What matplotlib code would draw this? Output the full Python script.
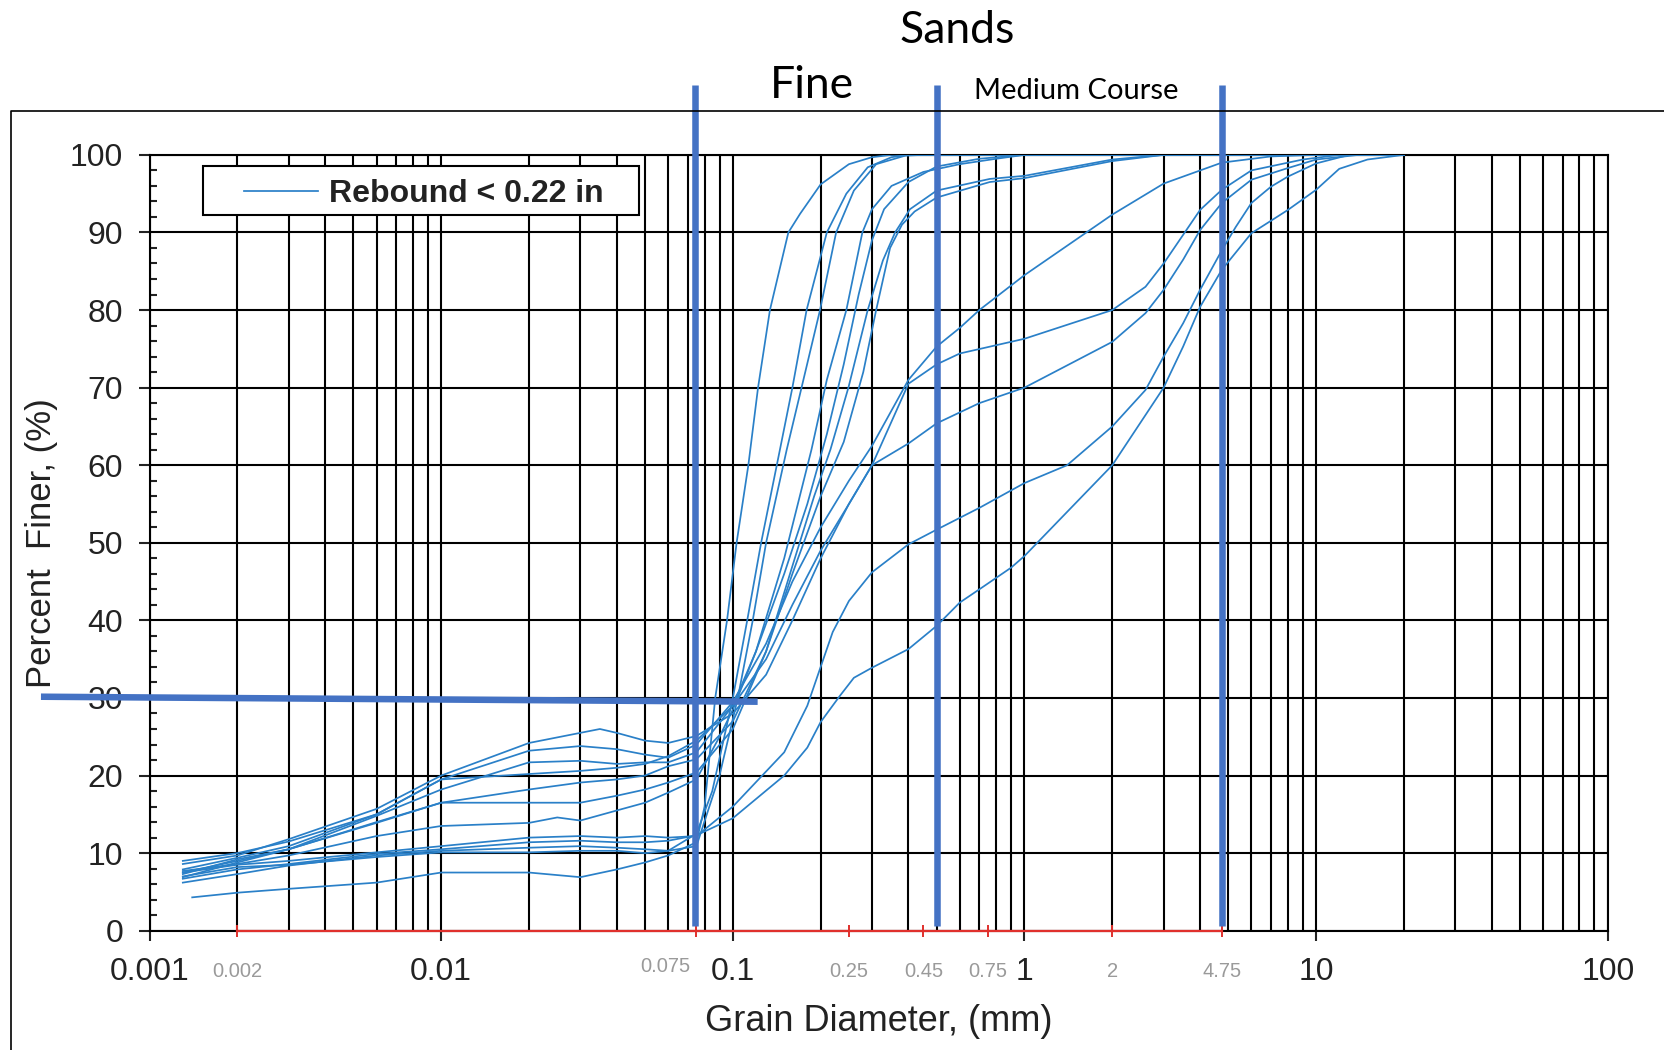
import numpy as np
import matplotlib
matplotlib.use("Agg")
import matplotlib.pyplot as plt
from matplotlib.ticker import LogLocator, FixedLocator, FixedFormatter, NullFormatter
from matplotlib.lines import Line2D
from matplotlib.patches import Rectangle

plt.rcParams['font.family'] = ['Liberation Sans', 'DejaVu Sans']

# grain size curves (diameter in mm, percent finer)
c1_d = [0.0014, 0.002, 0.003, 0.006, 0.01, 0.02, 0.03, 0.04, 0.05, 0.06, 0.075, 0.08, 0.087, 0.0955, 0.103, 0.113, 0.122, 0.134, 0.155, 0.17, 0.2, 0.25, 0.3, 0.35, 20]
c1_p = [4.3, 4.9, 5.4, 6.2, 7.5, 7.5, 6.9, 7.9, 8.8, 9.7, 11.4, 16, 30, 40, 50, 60, 70, 80, 90, 92.4, 96.2, 98.8, 99.7, 100, 100]

c2_d = [0.0013, 0.002, 0.003, 0.006, 0.01, 0.02, 0.03, 0.04, 0.05, 0.06, 0.075, 0.085, 0.1, 0.112, 0.125, 0.145, 0.16, 0.179, 0.21, 0.245, 0.29, 0.35, 0.4, 20]
c2_p = [7.0, 8.2, 8.5, 9.5, 10.1, 10.1, 10.3, 10.3, 10.0, 10.3, 12.5, 18, 30, 40, 50, 62, 70, 80, 90, 95, 98.4, 99.7, 100, 100]

c3_d = [0.0013, 0.002, 0.003, 0.006, 0.01, 0.02, 0.03, 0.04, 0.05, 0.06, 0.075, 0.09, 0.104, 0.117, 0.13, 0.153, 0.172, 0.199, 0.226, 0.26, 0.31, 0.39, 0.45, 20]
c3_p = [6.2, 7.3, 8.4, 9.7, 10.3, 10.7, 10.9, 10.7, 10.5, 10.3, 10.9, 20, 30, 40, 50, 62, 70, 80, 90, 95.4, 98.8, 99.9, 100, 100]

c4_d = [0.0013, 0.002, 0.003, 0.006, 0.01, 0.02, 0.025, 0.03, 0.04, 0.05, 0.06, 0.075, 0.09, 0.1, 0.12, 0.15, 0.186, 0.21, 0.245, 0.278, 0.3, 0.35, 0.45, 0.6, 0.8, 1.0, 20]
c4_p = [7.7, 8.6, 9.7, 12.2, 13.5, 13.9, 14.6, 14.2, 15.5, 16.5, 17.8, 19.5, 25, 28.5, 36, 48, 62, 71, 80, 90, 93, 96, 97.8, 98.8, 99.5, 100, 100]

c5_d = [0.0013, 0.002, 0.003, 0.006, 0.01, 0.02, 0.03, 0.04, 0.05, 0.06, 0.075, 0.1, 0.13, 0.16, 0.19, 0.216, 0.249, 0.29, 0.327, 0.36, 0.405, 0.5, 0.76, 1.0, 2.0, 3.0, 20]
c5_p = [7.5, 9.0, 10.5, 14, 16.5, 16.5, 16.5, 17.4, 18.2, 19.1, 20.4, 26, 36, 47, 56, 62, 70, 80, 86.4, 90, 93, 95.4, 96.9, 97.3, 99.4, 100, 100]

c6_d = [0.0013, 0.002, 0.003, 0.006, 0.01, 0.02, 0.03, 0.04, 0.05, 0.06, 0.075, 0.1, 0.13, 0.16, 0.2, 0.24, 0.28, 0.31, 0.346, 0.38, 0.42, 0.5, 0.76, 1.0, 2.0, 3.0, 20]
c6_p = [6.9, 8.8, 10.5, 13.9, 16.5, 18.2, 19.1, 19.5, 20, 21.2, 22.1, 27, 36, 46, 56, 63, 72, 80, 88, 91, 92.7, 94.5, 96.5, 97, 99.2, 100, 100]

c7_d = [0.0013, 0.002, 0.003, 0.006, 0.01, 0.02, 0.03, 0.04, 0.05, 0.06, 0.075, 0.1, 0.12, 0.15, 0.18, 0.21, 0.24, 0.27, 0.3, 0.33, 0.4, 0.5, 0.7, 1.0, 20]
c7_p = [7.3, 9.2, 10.5, 14.8, 18.2, 21.7, 21.9, 21.5, 21.7, 21.7, 23, 29, 36, 46, 55, 64, 73, 82, 89, 93, 96.5, 98.5, 99.5, 100, 100]

c8_d = [0.0013, 0.002, 0.003, 0.006, 0.01, 0.02, 0.03, 0.04, 0.05, 0.06, 0.075, 0.1, 0.13, 0.16, 0.2, 0.25, 0.3, 0.4, 0.5, 0.6, 0.7, 1.0, 2.0, 3.0, 4.75, 7.0, 10, 20]
c8_p = [7.9, 9.4, 10.9, 15, 19.5, 23.2, 23.8, 23.4, 22.7, 22.3, 24, 29.5, 37, 45, 52, 58, 62.5, 71, 75.3, 77.7, 80, 84.5, 92.3, 96.3, 99, 99.8, 100, 100]

c9_d = [0.0013, 0.002, 0.003, 0.006, 0.01, 0.02, 0.03, 0.04, 0.05, 0.06, 0.075, 0.1, 0.13, 0.16, 0.2, 0.25, 0.3, 0.4, 0.5, 0.6, 1.0, 2.0, 2.6, 3.0, 4.0, 4.75, 6.0, 9.0, 12, 20]
c9_p = [9.0, 10, 11.5, 15, 19.5, 20.2, 20.6, 21.0, 21.5, 22.5, 24.5, 29, 35, 42, 49, 55, 60, 70.5, 73, 74.4, 76.3, 80, 83, 86, 92.9, 95.5, 98, 99.4, 100, 100]

c10_d = [0.0013, 0.002, 0.003, 0.006, 0.01, 0.02, 0.035, 0.04, 0.05, 0.06, 0.075, 0.1, 0.13, 0.16, 0.2, 0.25, 0.3, 0.4, 0.5, 0.7, 1.0, 2.0, 2.6, 3.0, 3.5, 4.0, 4.75, 6.0, 8.0, 10, 14, 20]
c10_p = [8.6, 9.7, 11.8, 15.7, 20, 24.2, 26, 25.5, 24.5, 24.2, 25.1, 28, 33, 40, 48, 55, 60, 62.8, 65.4, 68, 70, 75.9, 79.6, 82.6, 86.5, 90.3, 93.8, 96.8, 98.3, 99.4, 100, 100]

c11_d = [0.0013, 0.002, 0.003, 0.006, 0.01, 0.02, 0.03, 0.04, 0.05, 0.06, 0.075, 0.1, 0.15, 0.18, 0.2, 0.22, 0.25, 0.3, 0.4, 0.5, 0.7, 1.0, 1.4, 2.0, 2.6, 3.0, 3.5, 4.0, 4.75, 5.3, 6.0, 7.0, 8.0, 10, 13, 20]
c11_p = [7.5, 8.5, 9.0, 10.1, 10.9, 12.0, 12.2, 12.0, 12.2, 12.0, 12.2, 16, 23, 29, 34, 38.5, 42.5, 46.2, 49.8, 51.7, 54.5, 57.7, 60, 65, 69.7, 74, 78.3, 82.6, 87.7, 90.7, 93.8, 95.9, 97.2, 98.9, 100, 100]

c12_d = [0.0013, 0.002, 0.003, 0.006, 0.01, 0.02, 0.03, 0.04, 0.05, 0.06, 0.075, 0.1, 0.15, 0.18, 0.2, 0.232, 0.26, 0.3, 0.4, 0.5, 0.6, 0.7, 0.9, 1.0, 2.0, 3.0, 3.5, 4.0, 4.75, 6.0, 8.0, 10, 12, 15, 20]
c12_p = [6.7, 7.9, 8.6, 9.9, 10.5, 11.4, 11.6, 11.4, 11.4, 11.6, 12.3, 14.5, 20, 23.6, 26.9, 30.2, 32.6, 33.9, 36.3, 39.3, 42.3, 44, 46.8, 48.3, 60, 70, 75.3, 80.4, 85.2, 89.9, 92.9, 95.5, 98.2, 99.4, 100]

curves = [(c1_d, c1_p), (c2_d, c2_p), (c3_d, c3_p), (c4_d, c4_p), (c5_d, c5_p), (c6_d, c6_p),
          (c7_d, c7_p), (c8_d, c8_p), (c9_d, c9_p), (c10_d, c10_p), (c11_d, c11_p), (c12_d, c12_p)]

major_x = [0.001, 0.01, 0.1, 1, 10, 100]
major_x_labels = ['0.001', '0.01', '0.1', '1', '10', '100']
sieve_x = [0.002, 0.075, 0.25, 0.45, 0.75, 2, 4.75]
sieve_labels = ['0.002', '0.075', '0.25', '0.45', '0.75', '2', '4.75']
boundaries = [0.074, 0.5, 4.75]
legend_label = 'Rebound < 0.22 in'

curve_color = '#2a80c8'
mark_blue = '#4472c4'

fig = plt.figure(figsize=(16.64, 10.5), dpi=100)
ax = fig.add_axes([0.0899, 0.1136, 0.8763, 0.7389])

for d, p in curves:
    ax.plot(d, p, color=curve_color, lw=1.25, zorder=3)

ax.set_xscale('log')
ax.set_xlim(0.001, 100)
ax.set_ylim(0, 100)

ax.xaxis.set_major_locator(FixedLocator(major_x))
ax.xaxis.set_major_formatter(FixedFormatter(major_x_labels))
ax.xaxis.set_minor_locator(LogLocator(base=10, subs=np.arange(2, 10), numticks=20))
ax.xaxis.set_minor_formatter(NullFormatter())
ax.set_yticks(np.arange(0, 101, 10))
ax.set_yticks(np.arange(0, 101, 2), minor=True)

ax.grid(axis='x', which='both', color='black', lw=1.5, zorder=1)
ax.grid(axis='y', which='major', color='black', lw=1.5, zorder=1)
ax.set_axisbelow(True)

ax.tick_params(axis='x', which='major', direction='out', length=7, width=1.5, labelsize=23, pad=12, colors='#222222')
ax.tick_params(axis='x', which='minor', length=0)
ax.tick_params(axis='y', which='major', direction='out', length=8, width=1.5, labelsize=23, pad=11, colors='#222222')
ax.tick_params(axis='y', which='minor', direction='in', length=5, width=1.5, colors='#222222')
for s in ax.spines.values():
    s.set_linewidth(1.5)
    s.set_color('black')

# red sieve line along the x axis
ax.plot([sieve_x[0], sieve_x[-1]], [0, 0], color='#e0302c', lw=1.6, zorder=4, clip_on=False)
ax.plot(sieve_x, [0] * len(sieve_x), ls='none', marker='|', ms=9, mew=1.4, color='#e0302c', zorder=4, clip_on=False)
trans = ax.get_xaxis_transform()
for x, lab in zip(sieve_x, sieve_labels):
    if lab == '0.075':
        ax.text(0.0715, -0.046, lab, transform=trans, ha='right', va='center', fontsize=14.5, color='#9a9a9a')
    else:
        ax.text(x, -0.052, lab, transform=trans, ha='center', va='center', fontsize=14.5, color='#9a9a9a')

# legend box drawn by hand (axes fraction)
ax.add_patch(Rectangle((0.0364, 0.922), 0.2991, 0.0643, transform=ax.transAxes, facecolor='white',
                       edgecolor='black', lw=1.5, zorder=5))
ax.plot([0.0647, 0.1155], [0.954, 0.954], transform=ax.transAxes, color=curve_color, lw=1.25, zorder=6)
ax.text(0.1230, 0.949, legend_label, transform=ax.transAxes, ha='left', va='center',
        fontsize=23, fontweight='bold', color='#222222', zorder=6)

# thick blue boundary marks
for bx in boundaries:
    ax.plot([bx, bx], [0.006, 1.09], transform=trans, color=mark_blue, lw=4.7,
            solid_capstyle='butt', clip_on=False, zorder=7)
ax.plot([-0.0745, 0.417], [0.3016, 0.2952], transform=ax.transAxes, color=mark_blue, lw=4.7,
        solid_capstyle='butt', clip_on=False, zorder=7)

fig.text(0.0252, 0.483, 'Percent  Finer, (%)', rotation=90, ha='center', va='center', fontsize=25, color='#222222')
fig.text(0.528, 0.027, 'Grain Diameter, (mm)', ha='center', va='center', fontsize=26, color='#222222')

fig.text(0.575, 0.971, 'Sands', ha='center', va='center', fontsize=32, family='Lato')
fig.text(0.488, 0.919, 'Fine', ha='center', va='center', fontsize=32, family='Lato')
fig.text(0.6466, 0.913, 'Medium Course', ha='center', va='center', fontsize=21, family='Lato')

# outer frame of the pasted picture
fig.add_artist(Line2D([0.0064, 0.0064, 1.0], [0.0, 0.894, 0.894], transform=fig.transFigure,
                      color='black', lw=1.2))

fig.savefig('out.png', dpi=100)
